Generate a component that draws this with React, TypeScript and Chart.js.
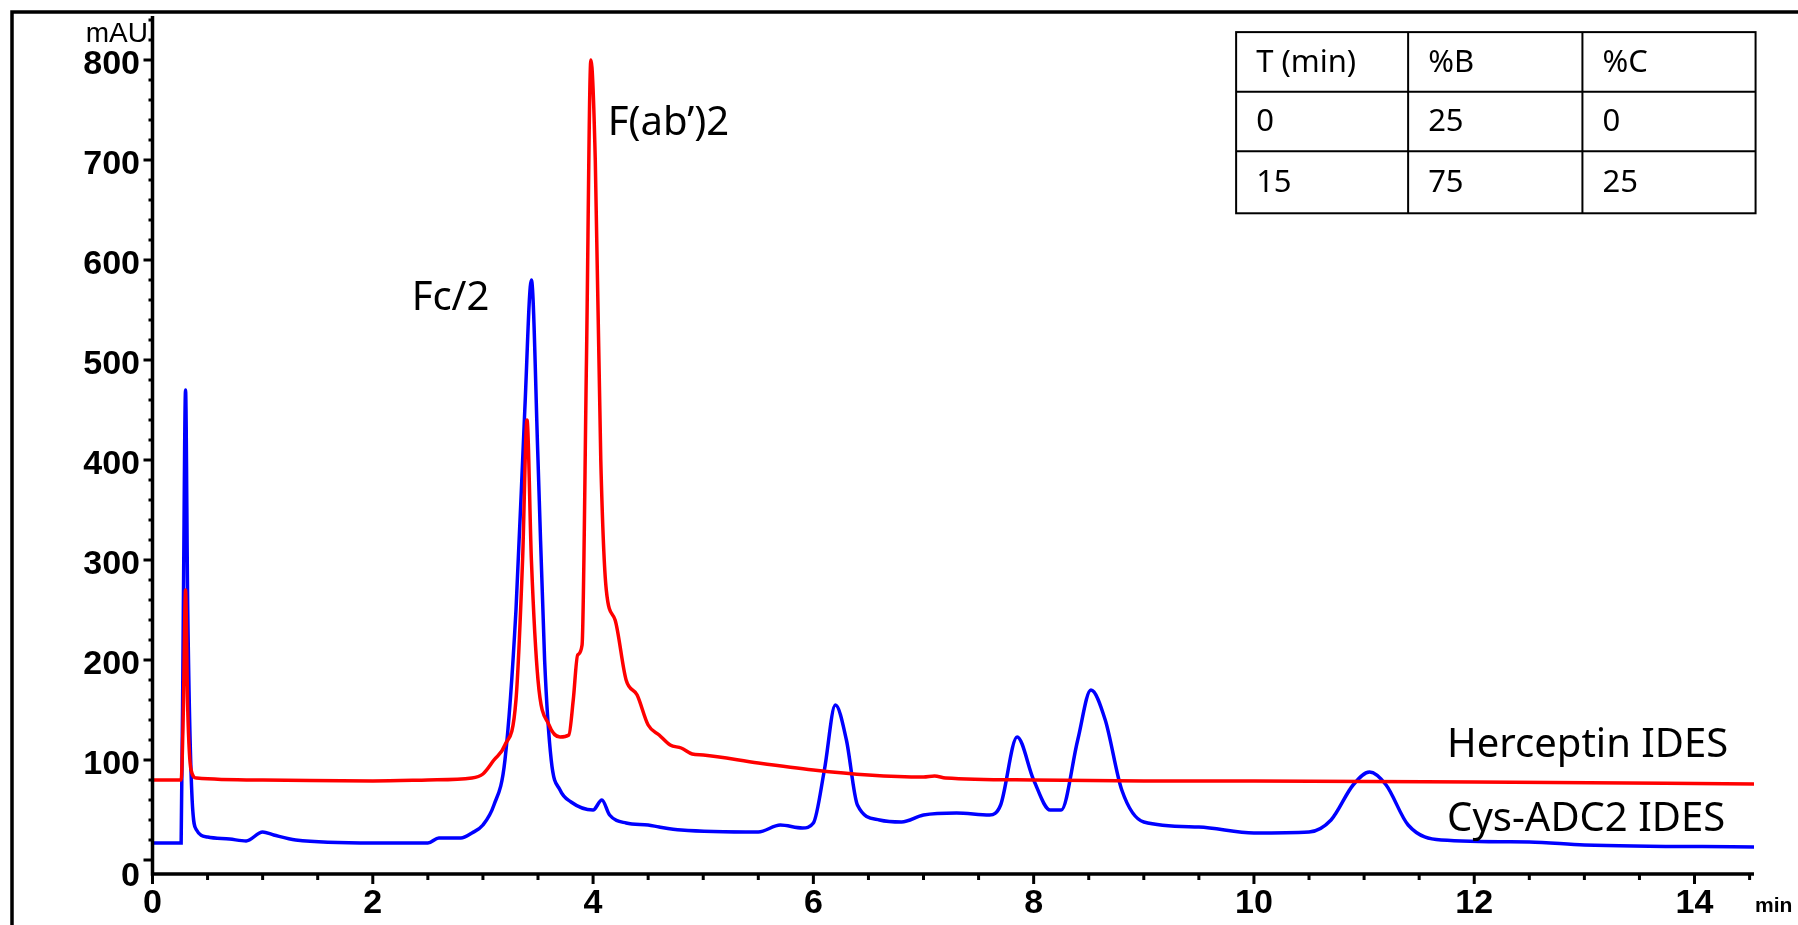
import { useEffect, useRef } from "react";
import Chart from "chart.js/auto";

// retention time (min) / absorbance (mAU)
const hercTime = [0, 0.26, 0.28, 0.3, 0.32, 0.35, 0.4, 1, 2, 2.5, 2.9, 3.0, 3.1, 3.2, 3.3, 3.36, 3.4, 3.44, 3.5, 3.6, 3.7, 3.78, 3.82, 3.86, 3.9, 3.94, 3.98, 4.02, 4.07, 4.12, 4.2, 4.3, 4.4, 4.5, 4.6, 4.7, 4.8, 4.9, 5.0, 5.5, 6, 6.5, 7, 7.1, 7.2, 8, 9, 10, 12, 14.6];
const hercValues = [80, 80, 150, 270, 150, 90, 82, 80, 79, 80, 82, 86, 100, 115, 160, 300, 440, 300, 180, 135, 123, 125, 160, 205, 215, 500, 800, 700, 400, 270, 240, 180, 165, 135, 125, 115, 112, 106, 105, 97, 90, 85, 83, 84, 82, 80, 79, 79, 78, 76];

const cysTime = [0, 0.26, 0.28, 0.3, 0.32, 0.36, 0.4, 0.5, 0.7, 0.85, 1.0, 1.1, 1.3, 2, 2.5, 2.6, 2.8, 2.9, 3.0, 3.1, 3.2, 3.3, 3.38, 3.44, 3.5, 3.56, 3.62, 3.7, 3.8, 4.0, 4.08, 4.15, 4.3, 4.5, 4.6, 4.8, 5.5, 5.7, 5.9, 6.0, 6.1, 6.2, 6.3, 6.4, 6.6, 6.8, 7.0, 7.3, 7.6, 7.7, 7.85, 8.0, 8.15, 8.25, 8.4, 8.52, 8.65, 8.8, 9.0, 9.5, 10, 10.5, 10.7, 10.9, 11.05, 11.2, 11.4, 11.7, 12.5, 13, 14.6];
const cysValues = [17, 17, 250, 470, 250, 60, 30, 23, 21, 19, 28, 25, 20, 17, 17, 22, 22, 27, 35, 55, 100, 250, 450, 580, 400, 200, 100, 70, 58, 50, 60, 45, 37, 35, 33, 30, 28, 35, 32, 37, 90, 155, 120, 55, 40, 38, 45, 47, 45, 55, 123, 80, 50, 50, 120, 170, 140, 70, 38, 33, 27, 28, 40, 75, 88, 75, 35, 20, 18, 15, 13];

const tableRows = [
  ["T (min)", "%B", "%C"],
  ["0", "25", "0"],
  ["15", "75", "25"],
];

const S = 1798 / 1568;
const narrow = "'Liberation Sans Narrow', 'Liberation Sans', Arial, sans-serif";

const decor = {
  id: "decor",
  afterDraw(chart: any) {
    const ctx = chart.ctx;
    const x = chart.scales.x;
    const y = chart.scales.y;
    const a = chart.chartArea;
    ctx.save();
    ctx.strokeStyle = "#000";
    ctx.fillStyle = "#000";
    // outer frame
    ctx.lineWidth = 3.5;
    ctx.beginPath();
    ctx.moveTo(12, 925);
    ctx.lineTo(12, 12);
    ctx.lineTo(1798, 12);
    ctx.stroke();
    // axes
    ctx.beginPath();
    ctx.moveTo(a.left, a.top);
    ctx.lineTo(a.left, a.bottom);
    ctx.lineTo(a.right, a.bottom);
    ctx.stroke();
    // y ticks
    for (let v = 0; v <= 840; v += 20) {
      const py = y.getPixelForValue(v);
      const major = v % 100 === 0;
      ctx.lineWidth = 3;
      ctx.beginPath();
      ctx.moveTo(a.left - (major ? 9 : 4), py);
      ctx.lineTo(a.left, py);
      ctx.stroke();
    }
    // x ticks
    for (let v = 0; v <= 14.5; v += 0.5) {
      const px = x.getPixelForValue(v);
      const major = v % 2 === 0;
      ctx.lineWidth = 3;
      ctx.beginPath();
      ctx.moveTo(px, a.bottom);
      ctx.lineTo(px, a.bottom + (major ? 10 : 6));
      ctx.stroke();
    }
    // tick labels
    ctx.font = `bold 34px ${narrow}`;
    ctx.textAlign = "right";
    ctx.textBaseline = "middle";
    for (let v = 0; v <= 800; v += 100) {
      ctx.fillText(String(v), 140, y.getPixelForValue(v) + 5 + (v === 0 ? 12 : 0));
    }
    ctx.textAlign = "center";
    ctx.textBaseline = "top";
    for (let v = 0; v <= 14; v += 2) {
      ctx.fillText(String(v), x.getPixelForValue(v), a.bottom + 13);
    }
    ctx.font = `bold 21px ${narrow}`;
    ctx.textAlign = "left";
    ctx.fillText("min", 1755, 896);
    ctx.font = "28px 'Liberation Sans', Arial, sans-serif";
    ctx.textAlign = "right";
    ctx.fillText("mAU", 148, 20);
    // annotations
    ctx.font = "40px 'Noto Sans', 'Open Sans', sans-serif";
    ctx.textAlign = "left";
    ctx.textBaseline = "middle";
    ctx.fillText("Fc/2", 359 * S, 260 * S);
    ctx.fillText("F(ab\u2019)2", 530 * S, 108 * S);
    ctx.fillText("Herceptin IDES", 1262 * S, 650 * S);
    ctx.fillText("Cys-ADC2 IDES", 1262 * S, 715 * S);
    // gradient table
    const cols = [1078, 1228, 1380, 1531].map((c) => c * S);
    const rows = [28, 80, 132, 186].map((r) => r * S);
    ctx.lineWidth = 2;
    ctx.strokeRect(cols[0], rows[0], cols[3] - cols[0], rows[3] - rows[0]);
    ctx.beginPath();
    for (const c of cols.slice(1, 3)) { ctx.moveTo(c, rows[0]); ctx.lineTo(c, rows[3]); }
    for (const r of rows.slice(1, 3)) { ctx.moveTo(cols[0], r); ctx.lineTo(cols[3], r); }
    ctx.stroke();
    ctx.font = "31px 'Noto Sans', 'Open Sans', sans-serif";
    tableRows.forEach((row, i) => {
      row.forEach((cell, j) => {
        ctx.fillText(cell, cols[j] + 20, (rows[i] + rows[i + 1]) / 2 + 1);
      });
    });
    ctx.restore();
  },
};

export default function App() {
  const ref = useRef<HTMLCanvasElement>(null);
  useEffect(() => {
    if (!ref.current) return;
    const chart = new Chart(ref.current, {
      type: "line",
      data: {
        datasets: [
          {
            label: "Herceptin IDES",
            data: hercTime.map((t, i) => ({ x: t, y: hercValues[i] })),
            borderColor: "#ff0000",
            borderWidth: 3.5,
            pointRadius: 0,
            cubicInterpolationMode: "monotone",
          },
          {
            label: "Cys-ADC2 IDES",
            data: cysTime.map((t, i) => ({ x: t, y: cysValues[i] })),
            borderColor: "#0000ff",
            borderWidth: 3.5,
            pointRadius: 0,
            cubicInterpolationMode: "monotone",
          },
        ],
      },
      plugins: [decor],
      options: {
        animation: false,
        responsive: false,
        layout: { padding: { left: 11, right: 44, top: 16, bottom: 11 } },
        plugins: { legend: { display: false }, tooltip: { enabled: false } },
        scales: {
          x: {
            type: "linear",
            min: 0,
            max: 14.54,
            grid: { display: false },
            border: { display: false },
            ticks: { display: false },
            afterFit: (s: any) => { s.height = 40; },
          },
          y: {
            min: -14,
            max: 844,
            grid: { display: false },
            border: { display: false },
            ticks: { display: false },
            afterFit: (s: any) => { s.width = 141.5; },
          },
        },
      },
    });
    return () => chart.destroy();
  }, []);
  return (
    <div style={{ position: "fixed", left: 0, top: 0, width: 1798, height: 925, background: "#fff" }}>
      <canvas ref={ref} width={1798} height={925} />
    </div>
  );
}
